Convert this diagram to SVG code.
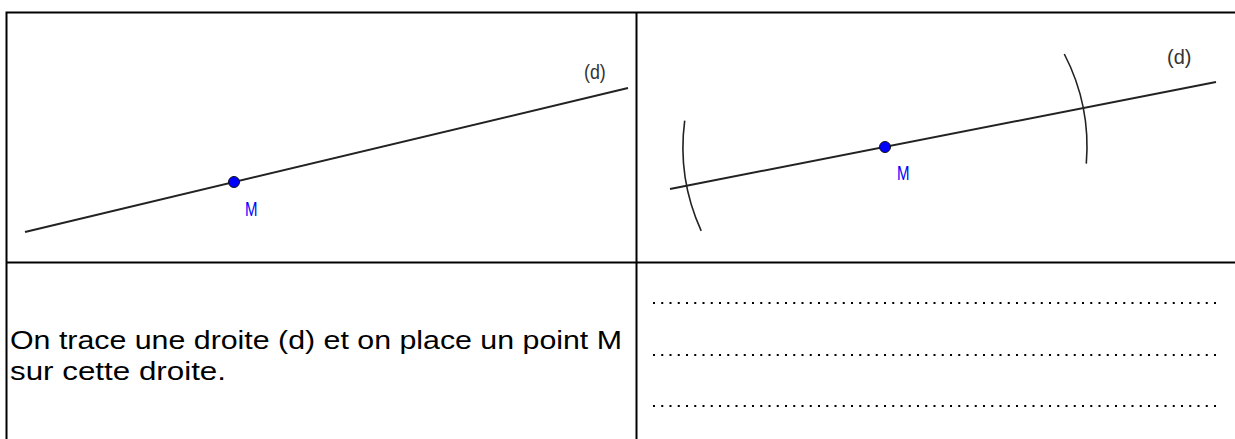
<svg xmlns="http://www.w3.org/2000/svg" width="1235" height="439" viewBox="0 0 1235 439">
<style>
.border{stroke:#000;stroke-width:2;fill:none}
.line{stroke:#222;stroke-width:2;fill:none}
.arc{stroke:#222;stroke-width:1.6;fill:none}
.pt{fill:#0000ff;stroke:#111;stroke-width:1}
.lbl{font-family:"Liberation Sans",Arial,sans-serif;font-size:21px;fill:#333}
.mlbl{font-family:"Liberation Sans",Arial,sans-serif;font-size:20px;fill:#0000ff}
.txt{font-family:"Liberation Sans",Arial,sans-serif;font-size:26px;fill:#000}
.dots{stroke:#000;stroke-width:2;stroke-dasharray:2 6.25;fill:none}
</style>
<rect x="0" y="0" width="1235" height="439" fill="#fff"/>
<g id="table">
<path class="border" d="M6.5 439 V12.5 H1235 M6.5 262.5 H1235 M636.5 12.5 V439"/>
</g>
<g id="fig-left">
<line class="line" x1="25" y1="232" x2="628" y2="88"/>
<circle class="pt" cx="234" cy="182" r="5.5"/>
<text class="mlbl" x="245" y="216" transform="translate(245 0) scale(0.75 1) translate(-245 0)">M</text>
<text class="lbl" x="584" y="79" transform="translate(584 0) scale(0.85 1) translate(-584 0)">(d)</text>
</g>
<g id="fig-right">
<line class="line" x1="670" y1="189" x2="1216" y2="82"/>
<path class="arc" d="M684.7 120.6 A202 202 0 0 0 701.2 230.8"/>
<path class="arc" d="M1064.3 54 A202 202 0 0 1 1086.3 163.6"/>
<circle class="pt" cx="885" cy="147" r="5.5"/>
<text class="mlbl" x="897" y="180" transform="translate(897 0) scale(0.75 1) translate(-897 0)">M</text>
<text class="lbl" x="1167" y="64" transform="translate(1167 0) scale(0.95 1) translate(-1167 0)">(d)</text>
</g>
<g id="text-left">
<text class="txt" x="10" y="349" textLength="612" lengthAdjust="spacingAndGlyphs">On trace une droite (d) et on place un point M</text>
<text class="txt" x="10" y="380" textLength="216" lengthAdjust="spacingAndGlyphs">sur cette droite.</text>
</g>
<g id="text-right">
<line class="dots" x1="653" y1="303" x2="1220" y2="303"/>
<line class="dots" x1="653" y1="355" x2="1220" y2="355"/>
<line class="dots" x1="653" y1="406" x2="1220" y2="406"/>
</g>
</svg>
